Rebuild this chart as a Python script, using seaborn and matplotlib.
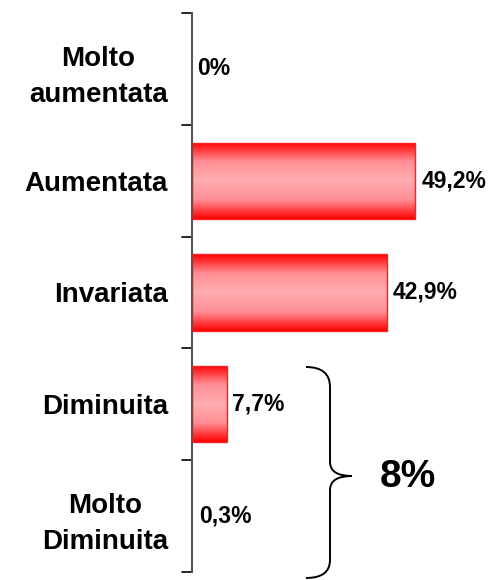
import numpy as np
import pandas as pd
import matplotlib
matplotlib.use("Agg")
import matplotlib.pyplot as plt
from matplotlib.colors import LinearSegmentedColormap
from matplotlib.path import Path
from matplotlib.patches import PathPatch
import seaborn as sns

categories = ["Molto\naumentata", "Aumentata", "Invariata", "Diminuita", "Molto\nDiminuita"]
values = [0.0, 49.2, 42.9, 7.7, 0.3]
value_labels = ["0%", "49,2%", "42,9%", "7,7%", "0,3%"]
group_label = "8%"

sns.set_theme(style="white")
plt.rcParams['font.family'] = ['Liberation Sans', 'DejaVu Sans']

fig = plt.figure(figsize=(4.93, 5.80), dpi=100)
ax = fig.add_axes([191.5 / 493, 8 / 580, 301 / 493, 559 / 580])

df = pd.DataFrame({"cat": categories, "val": values})
sns.barplot(data=df, x="val", y="cat", orient="h", color="red", width=0.68,
            saturation=1, ax=ax, edgecolor="#ff2020", linewidth=1.0)

ax.set_xlim(0, 301 / 4.55)
ax.set_ylim(len(categories) - 0.5, -0.5)

cmap = LinearSegmentedColormap.from_list(
    "grad", ["#ff0000", "#ff8f95", "#ffacb0", "#ff8f95", "#ff0000"])
grad = np.linspace(0, 1, 256).reshape(-1, 1)
for p in ax.patches:
    x0, y0 = p.get_x(), p.get_y()
    w, h = p.get_width(), p.get_height()
    if w <= 0.5:
        p.set_visible(False)
        continue
    im = ax.imshow(grad, cmap=cmap, aspect="auto",
                   extent=(x0, x0 + w, y0 + h, y0), zorder=p.get_zorder() + 0.1,
                   interpolation="bilinear")
    im.set_clip_path(p)
    p.set_facecolor("none")
    p.set_zorder(p.get_zorder() + 0.2)

for i, (v, lab) in enumerate(zip(values, value_labels)):
    ax.text(v + 1.3, i, lab, ha="left", va="center", fontsize=16.5,
            fontweight="bold", color="black")

ax.set_xlabel("")
ax.set_ylabel("")
ax.set_xticks([])
ax.set_yticks(np.arange(len(categories)))
ax.set_yticklabels(categories, fontsize=20, fontweight="bold", linespacing=1.5,
                   color="black")
for t in ax.get_yticklabels():
    t.set_multialignment("center")
ax.tick_params(axis="y", length=0, pad=17)
for s in ["top", "right", "bottom"]:
    ax.spines[s].set_visible(False)
ax.spines["left"].set_color("#555555")
ax.spines["left"].set_linewidth(1.5)

# boundary ticks on the axis
for b in np.arange(-0.5, len(categories), 1.0):
    ax.plot([-10 / 4.55, 0], [b, b], color="black", lw=1.2, clip_on=False)

# curly brace on the right grouping the two "diminuita" categories
def to_data(px, py):
    inv = ax.transData.inverted()
    return inv.transform(fig.transFigure.transform((px / 493, 1 - py / 580)))

verts = [to_data(*pt) for pt in [
    (306, 367), (330, 367), (330, 387),
    (330, 462), (330, 476), (352, 476),
    (330, 476), (330, 490),
    (330, 560), (330, 578), (306, 578)]]
codes = [Path.MOVETO, Path.CURVE3, Path.CURVE3,
         Path.LINETO, Path.CURVE3, Path.CURVE3,
         Path.CURVE3, Path.CURVE3,
         Path.LINETO, Path.CURVE3, Path.CURVE3]
brace = PathPatch(Path(verts, codes), facecolor="none", edgecolor="black",
                  lw=1.4, clip_on=False)
ax.add_patch(brace)

gx, gy = to_data(408, 477)
ax.text(gx, gy, group_label, ha="center", va="center", fontsize=28,
        fontweight="bold", color="black", clip_on=False)

fig.savefig("out.png", dpi=100)
